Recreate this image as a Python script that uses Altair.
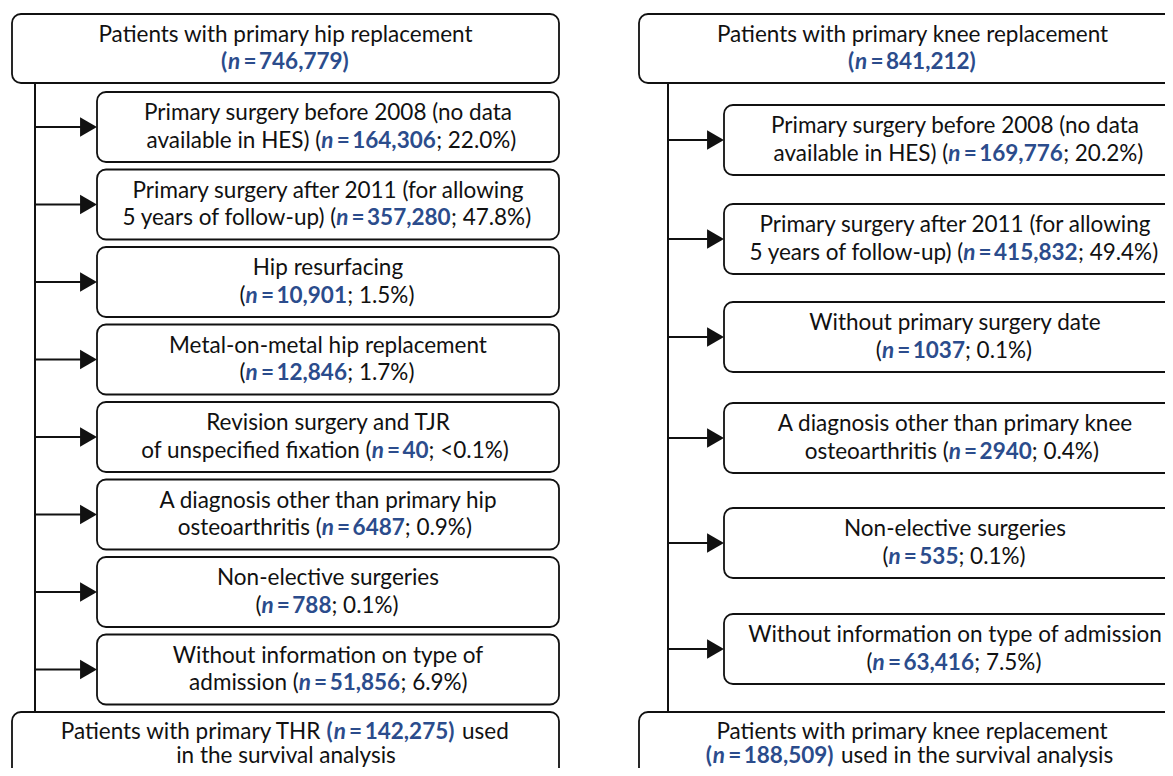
import altair as alt
import pandas as pd

FONT = "Lato"
FS = 22.5
BLUE = "#2b4c8c"
INK = "#111111"

# ---------------- data ----------------
hip_title = "Patients with primary hip replacement"
hip_total = 746779
hip_line1 = ["Primary surgery before 2008 (no data",
             "Primary surgery after 2011 (for allowing",
             "Hip resurfacing",
             "Metal-on-metal hip replacement",
             "Revision surgery and TJR",
             "A diagnosis other than primary hip",
             "Non-elective surgeries",
             "Without information on type of"]
hip_line2 = ["available in HES)", "5 years of follow-up)", "", "",
             "of unspecified fixation", "osteoarthritis", "", "admission"]
hip_n = [164306, 357280, 10901, 12846, 40, 6487, 788, 51856]
hip_pct = ["22.0%", "47.8%", "1.5%", "1.7%", "<0.1%", "0.9%", "0.1%", "6.9%"]
hip_final_n = 142275

knee_title = "Patients with primary knee replacement"
knee_total = 841212
knee_line1 = ["Primary surgery before 2008 (no data",
              "Primary surgery after 2011 (for allowing",
              "Without primary surgery date",
              "A diagnosis other than primary knee",
              "Non-elective surgeries",
              "Without information on type of admission"]
knee_line2 = ["available in HES)", "5 years of follow-up)", "",
              "osteoarthritis", "", ""]
knee_n = [169776, 415832, 1037, 2940, 535, 63416]
knee_pct = ["20.2%", "49.4%", "0.1%", "0.4%", "0.1%", "7.5%"]
knee_final_n = 188509

# ---------------- layout ----------------
hip_sub_tops = [92, 169.5, 247, 324.5, 402, 479.5, 557, 634.5]
knee_sub_tops = [105, 204, 302, 403, 508, 614]
BOX_H = 70
TOP_Y = (14, 83)
BOT_Y = (712, 800)

L = dict(top_x=(12, 559), sub_x=(97, 559), line_x=35, top_cx=285.5, sub_cx=328, bot_cx=286)
R = dict(top_x=(639, 1200), sub_x=(724, 1200), line_x=668, top_cx=912.5, sub_cx=955, bot_cx=912)

# approximate glyph advances (Helvetica-like) used to chain the styled runs of a line
REG = {' ': 278, '(': 333, ')': 333, ',': 278, '-': 333, '.': 278, ';': 278, '<': 584,
       '=': 584, '%': 889, 'A': 667, 'E': 667, 'H': 722, 'J': 500, 'M': 833, 'N': 722,
       'P': 667, 'R': 722, 'S': 667, 'T': 611, 'W': 944, 'a': 556, 'b': 556, 'c': 500,
       'd': 556, 'e': 556, 'f': 278, 'g': 556, 'h': 556, 'i': 222, 'j': 222, 'k': 500,
       'l': 222, 'm': 833, 'n': 556, 'o': 556, 'p': 556, 'q': 556, 'r': 333, 's': 500,
       't': 278, 'u': 556, 'v': 500, 'w': 722, 'x': 500, 'y': 500, 'z': 500}
K_REG = 0.99
BOLD = {'(': 320, ')': 320, ',': 250, '=': 580}
GAP = 2.5  # small gap around "="


def width(s, style):
    if style == "r":
        return sum(REG.get(c, 556) for c in s) / 1000 * FS * K_REG
    if style == "bi":
        return 0.57 * FS * len(s)
    return sum(BOLD.get(c, 580) for c in s) / 1000 * FS


def fmt(v):
    return f"{v:,}" if v >= 10000 else str(v)


texts = []


def add_line(segs, cx, y):
    # segs: list of (text, style, extra gap after)
    if len(segs) == 1 and segs[0][1] == "r":
        texts.append(dict(x=cx, y=y, text=segs[0][0], key="center_r"))
        return
    ws = [width(t, s) + g for t, s, g in segs]
    start = cx - sum(ws) / 2
    j = 0
    while j < len(segs) and segs[j][1] == "r":
        j += 1
    a = start + sum(ws[:j])
    if j > 0:
        pre = "".join(t for t, _, _ in segs[:j])
        stripped = pre.rstrip(" ")
        trail = width(pre[len(stripped):], "r")
        texts.append(dict(x=a - trail, y=y, text=stripped, key="right_r"))
    pos = a
    for k in range(j, len(segs)):
        t, s, g = segs[k]
        st = t.lstrip(" ")
        lead = width(t[: len(t) - len(st)], "r")
        texts.append(dict(x=pos + lead, y=y, text=st, key="left_" + s))
        pos += ws[k]


def n_runs(value, close=""):
    return [("n", "bi", GAP), ("=", "b", GAP), (fmt(value) + close, "b", 0)]


boxes, vlines, hlines, heads = [], [], [], []


def panel(P, title, total, line1, line2, ns, pcts, tops, final_segs1, final_segs2):
    boxes.append(dict(x1=P["top_x"][0], x2=P["top_x"][1], y1=TOP_Y[0], y2=TOP_Y[1]))
    c = (TOP_Y[0] + TOP_Y[1]) / 2
    add_line([(title, "r", 0)], P["top_cx"], c - 7)
    add_line([("(", "b", 0)] + n_runs(total, ")"), P["top_cx"], c + 20.5)
    vlines.append(dict(x=P["line_x"], y1=TOP_Y[1], y2=BOT_Y[0]))
    for l1, l2, n, p, t in zip(line1, line2, ns, pcts, tops):
        boxes.append(dict(x1=P["sub_x"][0], x2=P["sub_x"][1], y1=t, y2=t + BOX_H))
        c = t + BOX_H / 2
        add_line([(l1, "r", 0)], P["sub_cx"], c - 7)
        pre = (l2 + " (") if l2 else "("
        add_line([(pre, "r", 0)] + n_runs(n) + [("; " + p + ")", "r", 0)],
                 P["sub_cx"], c + 20.5)
        hlines.append(dict(x1=P["line_x"], x2=P["sub_x"][0] - 10, y=c))
        heads.append(dict(x=P["sub_x"][0] - 8.5, y=c))
    boxes.append(dict(x1=P["top_x"][0], x2=P["top_x"][1], y1=BOT_Y[0], y2=BOT_Y[1]))
    add_line(final_segs1, P["bot_cx"], BOT_Y[0] + 26.5)
    add_line(final_segs2, P["bot_cx"], BOT_Y[0] + 51)


panel(L, hip_title, hip_total, hip_line1, hip_line2, hip_n, hip_pct, hip_sub_tops,
      [("Patients with primary THR ", "r", 0), ("(", "b", 0)] + n_runs(hip_final_n, ")")
      + [(" used", "r", 0)],
      [("in the survival analysis", "r", 0)])
panel(R, knee_title, knee_total, knee_line1, knee_line2, knee_n, knee_pct, knee_sub_tops,
      [("Patients with primary knee replacement", "r", 0)],
      [("(", "b", 0)] + n_runs(knee_final_n, ")") + [(" used in the survival analysis", "r", 0)])

tdf = pd.DataFrame(texts)
bdf = pd.DataFrame(boxes)
vdf = pd.DataFrame(vlines)
hdf = pd.DataFrame(hlines)
adf = pd.DataFrame(heads)

XS = alt.Scale(domain=[8, 1165], nice=False, zero=False)
YS = alt.Scale(domain=[8, 768], nice=False, zero=False, reverse=True)

vl = alt.Chart(vdf).mark_rule(color=INK, strokeWidth=2).encode(
    x=alt.X("x:Q", scale=XS, axis=None),
    y=alt.Y("y1:Q", scale=YS, axis=None), y2="y2:Q")
rects = alt.Chart(bdf).mark_rect(cornerRadius=9, fill="white", stroke=INK,
                                 strokeWidth=1.8, clip=True).encode(
    x=alt.X("x1:Q", scale=XS, axis=None), x2="x2:Q",
    y=alt.Y("y1:Q", scale=YS, axis=None), y2="y2:Q")
hl = alt.Chart(hdf).mark_rule(color=INK, strokeWidth=2).encode(
    x=alt.X("x1:Q", scale=XS, axis=None), x2="x2:Q",
    y=alt.Y("y:Q", scale=YS, axis=None))
ah = alt.Chart(adf).mark_point(shape="triangle-right", filled=True, size=380,
                               color=INK, opacity=1).encode(
    x=alt.X("x:Q", scale=XS, axis=None), y=alt.Y("y:Q", scale=YS, axis=None))

styles = {
    "r": dict(color=INK, fontWeight="normal", fontStyle="normal"),
    "b": dict(color=BLUE, fontWeight="bold", fontStyle="normal"),
    "bi": dict(color=BLUE, fontWeight="bold", fontStyle="italic"),
}
layers = [vl, rects, hl, ah]
for key in sorted(tdf["key"].unique()):
    align, st = key.split("_")
    layers.append(
        alt.Chart(tdf).transform_filter(alt.datum.key == key).mark_text(
            align=align, baseline="alphabetic", font=FONT, fontSize=FS, **styles[st]
        ).encode(
            x=alt.X("x:Q", scale=XS, axis=None),
            y=alt.Y("y:Q", scale=YS, axis=None),
            text="text:N")
    )

chart = alt.layer(*layers).properties(
    width=1157, height=760, padding=0,
    autosize=alt.AutoSizeParams(type="none"),
).configure_view(strokeWidth=0)

chart.save("out.html", embed_options={"renderer": "svg", "actions": False})
